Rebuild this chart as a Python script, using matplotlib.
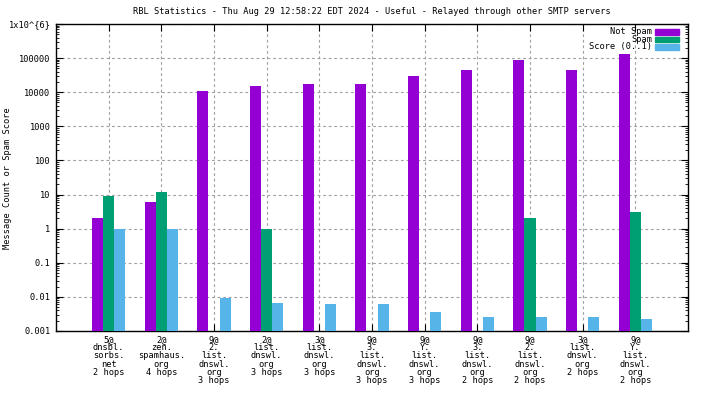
import numpy as np
import matplotlib
matplotlib.use('Agg')
import matplotlib.pyplot as plt
from matplotlib.patches import Rectangle
from matplotlib.ticker import LogLocator, NullFormatter, FixedLocator

# values
categories = [
    '5@\ndnsbl.\nsorbs.\nnet\n2 hops',
    '2@\nzen.\nspamhaus.\norg\n4 hops',
    '9@\n2.\nlist.\ndnswl.\norg\n3 hops',
    '2@\nlist.\ndnswl.\norg\n3 hops',
    '3@\nlist.\ndnswl.\norg\n3 hops',
    '9@\n3.\nlist.\ndnswl.\norg\n3 hops',
    '9@\nY.\nlist.\ndnswl.\norg\n3 hops',
    '9@\n3.\nlist.\ndnswl.\norg\n2 hops',
    '9@\n2.\nlist.\ndnswl.\norg\n2 hops',
    '3@\nlist.\ndnswl.\norg\n2 hops',
    '9@\nY.\nlist.\ndnswl.\norg\n2 hops',
]
not_spam = [2, 6, 10900, 15300, 17500, 17500, 30000, 45000, 89000, 45000, 134000]
spam = [9, 12, 0, 1, 0, 0, 0, 0, 2, 0, 3]
score = [1.0, 1.0, 0.0095, 0.0068, 0.0064, 0.0064, 0.0037, 0.0025, 0.0025, 0.0025, 0.0023]

series_names = ['Not Spam', 'Spam', 'Score (0..1)']
colors = ['#9400D3', '#009E73', '#56B4E9']

ytick_vals = [0.001, 0.01, 0.1, 1, 10, 100, 1000, 10000, 100000, 1000000]
ytick_labels = ['0.001', '0.01', '0.1', '1', '10', '100', '1000', '10000', '100000', '1x10^{6}']

plt.rcParams['font.family'] = ['DejaVu Sans Mono']
fs = 6.2

W, H = 704, 396
fig = plt.figure(figsize=(W / 100, H / 100), dpi=100)
ax = fig.add_axes([56 / W, 1 - 331 / H, 632 / W, 307 / H])

x = np.arange(len(categories))
w = 0.21
for off, vals, c, name in zip([-w, 0, w], [not_spam, spam, score], colors, series_names):
    ax.bar(x + off, vals, w, color=c, label=name, zorder=3)

ax.set_yscale('log')
ax.set_ylim(1e-3, 1e6)
ax.set_xlim(-1, len(categories))

ax.yaxis.set_major_locator(FixedLocator(ytick_vals))
ax.set_yticklabels(ytick_labels, fontsize=fs)
ax.yaxis.set_minor_locator(LogLocator(base=10, subs=np.arange(2, 10), numticks=20))
ax.yaxis.set_minor_formatter(NullFormatter())

ax.set_xticks(x)
ax.set_xticklabels(categories, fontsize=fs, linespacing=0.88)

ax.tick_params(axis='both', which='major', direction='in', length=5, width=0.8,
               top=True, right=True, pad=4)
ax.tick_params(axis='x', which='major', pad=3)
ax.tick_params(axis='y', which='minor', direction='in', length=2.5, width=0.6,
               right=True)

ax.grid(True, which='major', color='#a0a0a0', linestyle=(0, (2.5, 2.5)), linewidth=0.8, zorder=0)

for s in ax.spines.values():
    s.set_linewidth(1.0)

fig.text(8 / W, 1 - 178 / H, 'Message Count or Spam Score', rotation=90,
         ha='center', va='center', fontsize=fs)

fig.text(372 / W, 1 - 12 / H,
         'RBL Statistics - Thu Aug 29 12:58:22 EDT 2024 - Useful - Relayed through other SMTP servers',
         ha='center', va='center', fontsize=fs)

# gnuplot style key: text right-aligned, colour sample after it
for i, (name, c) in enumerate(zip(series_names, colors)):
    yc = 32 + i * 7.5
    fig.text(652 / W, 1 - yc / H, name, ha='right', va='center', fontsize=fs)
    fig.add_artist(Rectangle((655 / W, 1 - (yc + 2.5) / H), 24 / W, 5 / H,
                             transform=fig.transFigure, color=c))

fig.savefig('out.png', dpi=100)
